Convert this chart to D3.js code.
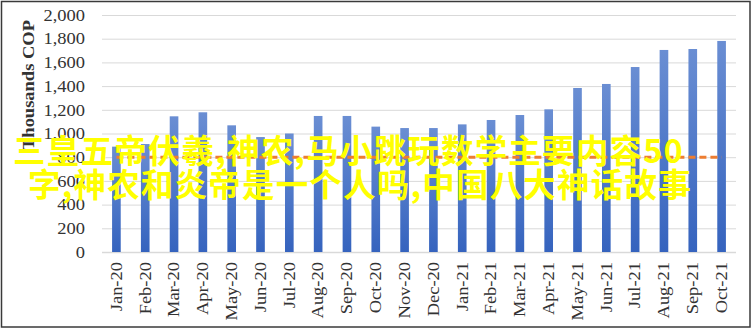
<!DOCTYPE html>
<html><head><meta charset="utf-8">
<script src="https://cdn.jsdelivr.net/npm/d3@7"></script>
<style>
html,body{margin:0;padding:0;background:#fff;}
svg{display:block;}
</style></head>
<body>
<svg id="c" width="752" height="329"></svg>
<script>
const months = ["Jan-20","Feb-20","Mar-20","Apr-20","May-20","Jun-20","Jul-20","Aug-20","Sep-20","Oct-20","Nov-20","Dec-20",
  "Jan-21","Feb-21","Mar-21","Apr-21","May-21","Jun-21","Jul-21","Aug-21","Sep-21","Oct-21"];
const values = [889, 911, 1145, 1179, 1069, 970, 1000, 1148, 1148, 1058, 1046, 1046,
  1077, 1114, 1156, 1204, 1384, 1418, 1561, 1705, 1713, 1781];
const targetValue = 800;
const yTicks = [0,200,400,600,800,1000,1200,1400,1600,1800,2000];
const yTitle = "Thousands COP";
const overlayLines = ["三皇五帝伏羲,神农,马小跳玩数学主要内容50", "字,神农和炎帝是一个人吗,中国八大神话故事"];

const svg = d3.select("#c");
const W = 752, H = 329;
const L = 102, R = 736, T = 15, B = 252;
const STRETCH = 1.12;

svg.append("rect").attr("x",0).attr("y",0).attr("width",W).attr("height",H).attr("fill","#fff");
svg.append("rect").attr("x",1.5).attr("y",1.5).attr("width",748.5).attr("height",325.5)
  .attr("fill","none").attr("stroke","#3a3a3a").attr("stroke-width",1.5);

const x = d3.scaleBand().domain(months).range([L,R]).paddingInner(0.7).paddingOuter(0.35);
const y = d3.scaleLinear().domain([0,2000]).range([B,T]);

const defs = svg.append("defs");
const g = defs.append("linearGradient").attr("id","barGrad").attr("x1",0).attr("y1",0).attr("x2",0).attr("y2",1);
g.append("stop").attr("offset","0%").attr("stop-color","#6a8ed3");
g.append("stop").attr("offset","100%").attr("stop-color","#3563be");

// gridlines
const yAxis = d3.axisLeft(y).tickValues(yTicks).tickSize(-(R-L)).tickPadding(17)
  .tickFormat(d3.format(","));
const ya = svg.append("g").attr("transform",`translate(${L},0)`).call(yAxis);
ya.select(".domain").remove();
ya.selectAll(".tick line").attr("stroke","#d9d9d9").attr("stroke-width",d=>d===0?1.5:1);
ya.selectAll(".tick text").attr("font-family","'Liberation Serif', serif").attr("font-size",16.5)
  .attr("fill","#333");

// bars
svg.append("g").selectAll("rect").data(months).join("rect")
  .attr("x",d=>x(d)).attr("width",x.bandwidth())
  .attr("y",(d,i)=>y(values[i])).attr("height",(d,i)=>y(0)-y(values[i]))
  .attr("fill","url(#barGrad)");

// x axis labels
const xAxis = d3.axisBottom(x).tickSize(0).tickPadding(0);
const xa = svg.append("g").attr("transform",`translate(0,${B})`).call(xAxis);
xa.select(".domain").remove();
xa.selectAll(".tick text")
  .attr("font-family","'Liberation Serif', serif").attr("font-size",16.5).attr("fill","#333")
  .attr("text-anchor","end").attr("dy","0.32em")
  .attr("transform","translate(0,10) rotate(-90)").attr("x",0).attr("y",0);

// target line
const line = d3.line().x(d=>x(d)+x.bandwidth()/2).y(()=>y(targetValue));
svg.append("path").datum([months[0], months[months.length-1]]).attr("d",line)
  .attr("fill","none").attr("stroke","#ed7d31").attr("stroke-width",3).attr("stroke-dasharray","7,4");

// axis title
svg.append("text").attr("transform","translate(34,85) rotate(-90)")
  .attr("text-anchor","middle").attr("font-family","'Liberation Serif', serif")
  .attr("font-weight","bold").attr("font-size",16.5).attr("fill","#333").text(yTitle);

// stretch serif texts along reading direction
svg.selectAll("text").each(function(){
  const len = this.getComputedTextLength();
  d3.select(this).attr("textLength", len*STRETCH).attr("lengthAdjust","spacingAndGlyphs");
});

// overlay yellow text
const ov = svg.append("g").attr("font-family","'Noto Sans CJK SC', sans-serif").attr("font-weight","bold")
  .attr("font-size",32.5).attr("fill","#ffff00").attr("letter-spacing",1.2);
ov.append("text").attr("x",13).attr("y",163).text(overlayLines[0]);
ov.append("text").attr("x",28).attr("y",197).text(overlayLines[1]);
</script>
</body></html>
